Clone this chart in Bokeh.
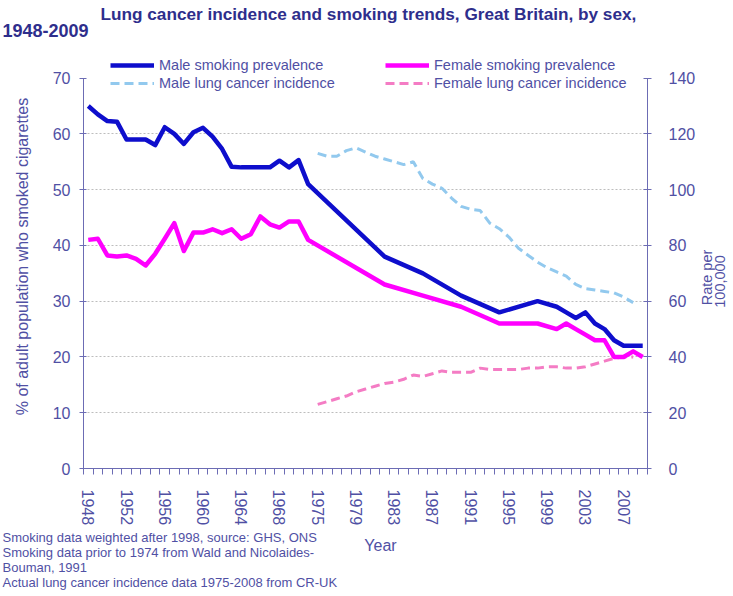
from math import pi
from bokeh.plotting import figure
from bokeh.models import (Range1d, LinearAxis, FixedTicker, Legend, LegendItem,
                          Label, Grid)
from bokeh.layouts import column, row
from bokeh.embed import file_html
from bokeh.resources import INLINE

# ---------------- data ----------------
years = ["1948", "1949", "1950", "1951", "1952", "1953", "1954", "1955", "1956", "1957",
         "1958", "1959", "1960", "1961", "1962", "1963", "1964", "1965", "1966", "1967",
         "1968", "1969", "1970", "1974", "1975", "1976", "1977", "1978", "1979", "1980",
         "1981", "1982", "1983", "1984", "1985", "1986", "1987", "1988", "1989", "1990",
         "1991", "1992", "1993", "1994", "1995", "1996", "1997", "1998", "1999", "2000",
         "2001", "2002", "2003", "2004", "2005", "2006", "2007", "2008", "2009"]
tick_years = ["1948", "1952", "1956", "1960", "1964", "1968", "1975", "1979", "1983",
              "1987", "1991", "1995", "1999", "2003", "2007"]

smoke_years = ["1948", "1949", "1950", "1951", "1952", "1953", "1954", "1955", "1956",
               "1957", "1958", "1959", "1960", "1961", "1962", "1963", "1964", "1965",
               "1966", "1967", "1968", "1969", "1970", "1974", "1982", "1986", "1990",
               "1994", "1998", "2000", "2001", "2002", "2003", "2004", "2005", "2006",
               "2007", "2008", "2009"]
male_smoking = [65, 63.5, 62.3, 62.2, 59, 59, 59, 58, 61.2,
                60, 58.2, 60.3, 61.1, 59.5, 57.3, 54.1, 54, 54,
                54, 54, 55.2, 54, 55.3, 51, 38, 35, 31,
                28, 30, 29, 28, 27, 28, 26, 25, 23,
                22, 22, 22]
female_smoking = [41, 41.2, 38.2, 38, 38.2, 37.6, 36.4, 38.5, 41.2,
                  44, 39, 42.3, 42.3, 42.9, 42.2, 42.9, 41.2, 42,
                  45.2, 43.8, 43.2, 44.3, 44.3, 41, 33, 31, 29,
                  26, 26, 25, 26, 25, 24, 23, 23, 20,
                  20, 21, 20]

incidence_years = ["1975", "1976", "1977", "1978", "1979", "1980", "1981", "1982", "1983",
                   "1984", "1985", "1986", "1987", "1988", "1989", "1990", "1991", "1992",
                   "1993", "1994", "1995", "1996", "1997", "1998", "1999", "2000", "2001",
                   "2002", "2003", "2004", "2005", "2006", "2007", "2008"]
male_incidence = [113, 112, 112, 114, 115, 113.5, 112, 111, 110,
                  109, 110, 104, 102, 100.5, 97, 94, 93, 92.5,
                  88, 86, 83, 79, 76.5, 74, 72, 70.5, 69,
                  66, 64.5, 64, 63.5, 63, 61.5, 59.5]
female_incidence = [23, 24, 25, 26, 27.5, 28.5, 29.5, 30.5, 31,
                    32, 33.5, 33, 34, 35, 34.5, 34.5, 34.5, 36,
                    35.5, 35.5, 35.5, 35.5, 36, 36, 36.5, 36.5, 36,
                    36, 36.5, 37.5, 38.5, 39.5, 40, 40]

left_ticks = [0, 10, 20, 30, 40, 50, 60, 70]
right_ticks = [0, 20, 40, 60, 80, 100, 120, 140]

title_1 = "Lung cancer incidence and smoking trends, Great Britain, by sex,"
title_2 = "1948-2009"
y_label = "% of adult population who smoked cigarettes"
rate_label = ["Rate per", "100,000"]
notes = ["Smoking data weighted after 1998, source: GHS, ONS",
         "Smoking data prior to 1974 from Wald  and Nicolaides-",
         "Bouman, 1991",
         "Actual lung cancer incidence data 1975-2008 from CR-UK"]

# ---------------- geometry / styling ----------------
W = 733
HEAD_H, MAIN_H, FOOT_H = 57, 471, 68
LEFT_W, RIGHT_W = 44, 35            # side strips holding the axis titles
FL, FR = 83, 650                    # frame left / right on the page (px)
FRAME_H = 418                       # frame height inside the main figure
Y_TOP_PX = 21                       # px from frame top where the value 70 sits
N = len(years)
AXIS = "#6C6CB4"
TXT = "#5050A4"
TITLE = "#2E2E8C"
FONT = "Liberation Sans"

def pos(ylist):
    return [years.index(y) for y in ylist]

def blank(width, height):
    f = figure(width=width, height=height, output_backend="svg", toolbar_location=None,
               x_range=Range1d(0, width), y_range=Range1d(0, height),
               x_axis_type=None, y_axis_type=None, frame_align=False,
               min_border_left=0, min_border_right=0, min_border_top=0,
               min_border_bottom=0)
    f.outline_line_color = None
    f.grid.visible = False
    return f

def add_text(fig, txt, x, y_from_top, size, color=TXT, bold=False, align="left",
             angle=0.0):
    fig.add_layout(Label(x=x, y=fig.height - y_from_top, text=txt, text_font=FONT,
                         text_font_size=size, text_color=color,
                         text_font_style="bold" if bold else "normal",
                         text_align=align, text_baseline="middle", angle=angle))

# ---------------- header ----------------
head = blank(W, HEAD_H)
add_text(head, title_1, 100, 13, "17.2px", TITLE, True)
add_text(head, title_2, 2, 30, "18px", TITLE, True)

# ---------------- side strips with the axis titles ----------------
left_strip = blank(LEFT_W, MAIN_H)
add_text(left_strip, y_label, 22, 256 - HEAD_H, "16px", align="center", angle=pi / 2)

main_w = W - LEFT_W - RIGHT_W
right_x0 = LEFT_W + main_w
right_strip = blank(RIGHT_W, MAIN_H)
add_text(right_strip, rate_label[0], 706 - right_x0, 277 - HEAD_H, "14.5px",
         align="center", angle=pi / 2)
add_text(right_strip, rate_label[1], 719 - right_x0, 281 - HEAD_H, "14.5px",
         align="center", angle=pi / 2)

# ---------------- main chart ----------------
y_top = left_ticks[-1] * FRAME_H / (FRAME_H - Y_TOP_PX)
p = figure(width=main_w, height=MAIN_H, output_backend="svg", toolbar_location=None,
           x_range=Range1d(-0.5, N - 0.5), y_range=Range1d(0, y_top),
           x_axis_type=None, y_axis_type=None, frame_align=False,
           min_border_left=FL - LEFT_W, min_border_right=right_x0 - FR,
           min_border_top=0, min_border_bottom=MAIN_H - FRAME_H)
p.outline_line_color = None
p.extra_y_ranges = {"rate": Range1d(0, y_top * right_ticks[-1] / left_ticks[-1])}

p.add_layout(Grid(dimension=1, ticker=FixedTicker(ticks=left_ticks[1:-1]),
                  grid_line_color="#BDBDBD", grid_line_dash="2 2", grid_line_width=1))

xax = LinearAxis(ticker=FixedTicker(ticks=[years.index(t) for t in tick_years],
                                    minor_ticks=[i - 0.5 for i in range(N + 1)]),
                 major_label_overrides={years.index(t): t for t in tick_years},
                 major_label_orientation="vertical",
                 major_tick_in=0, major_tick_out=0,
                 minor_tick_in=0, minor_tick_out=6,
                 major_label_standoff=15,
                 axis_line_color=AXIS, minor_tick_line_color=AXIS,
                 major_label_text_color=TXT, major_label_text_font=FONT,
                 major_label_text_font_size="16px")
p.add_layout(xax, "below")

lax = LinearAxis(ticker=FixedTicker(ticks=left_ticks), bounds=(0, left_ticks[-1]),
                 major_tick_in=3, major_tick_out=4, minor_tick_out=0, minor_tick_in=0,
                 major_label_standoff=9,
                 axis_line_color=AXIS, major_tick_line_color=AXIS,
                 major_label_text_color=TXT, major_label_text_font=FONT,
                 major_label_text_font_size="16px")
p.add_layout(lax, "left")

rax = LinearAxis(y_range_name="rate", ticker=FixedTicker(ticks=right_ticks),
                 bounds=(0, right_ticks[-1]),
                 major_tick_in=4, major_tick_out=4, minor_tick_out=0, minor_tick_in=0,
                 major_label_standoff=17,
                 axis_line_color=AXIS, major_tick_line_color=AXIS,
                 major_label_text_color=TXT, major_label_text_font=FONT,
                 major_label_text_font_size="16px")
p.add_layout(rax, "right")

r_mi = p.line(pos(incidence_years), male_incidence, y_range_name="rate",
              line_color="#92C9EE", line_width=3, line_dash="9 5")
r_fi = p.line(pos(incidence_years), female_incidence, y_range_name="rate",
              line_color="#F47CC4", line_width=3, line_dash="9 5")
r_fs = p.line(pos(smoke_years), female_smoking, line_color="#FF00FF",
              line_width=4.5, line_join="round")
r_ms = p.line(pos(smoke_years), male_smoking, line_color="#0E0ECC",
              line_width=4.5, line_join="round")

common = dict(orientation="vertical", padding=0, margin=0, spacing=0,
              border_line_color=None, background_fill_alpha=0,
              label_text_font=FONT, label_text_font_size="14.5px",
              label_text_color=TXT, glyph_width=44, glyph_height=18,
              label_height=18, label_standoff=5)
leg1 = Legend(items=[LegendItem(label="Male smoking prevalence", renderers=[r_ms]),
                     LegendItem(label="Male lung cancer incidence", renderers=[r_mi])],
              location=(27, FRAME_H - 42), **common)
leg2 = Legend(items=[LegendItem(label="Female smoking prevalence", renderers=[r_fs]),
                     LegendItem(label="Female lung cancer incidence", renderers=[r_fi])],
              location=(302, FRAME_H - 42), **common)
p.add_layout(leg1, "center")
p.add_layout(leg2, "center")

# ---------------- footer ----------------
foot = blank(W, FOOT_H)
add_text(foot, "Year", 380, 17, "16px", align="center")
for k, t in enumerate(notes):
    add_text(foot, t, 2, 9 + 15 * k, "13px")

page = column(head, row(left_strip, p, right_strip, spacing=0), foot, spacing=0)
open("out.html", "w").write(file_html(page, INLINE))
